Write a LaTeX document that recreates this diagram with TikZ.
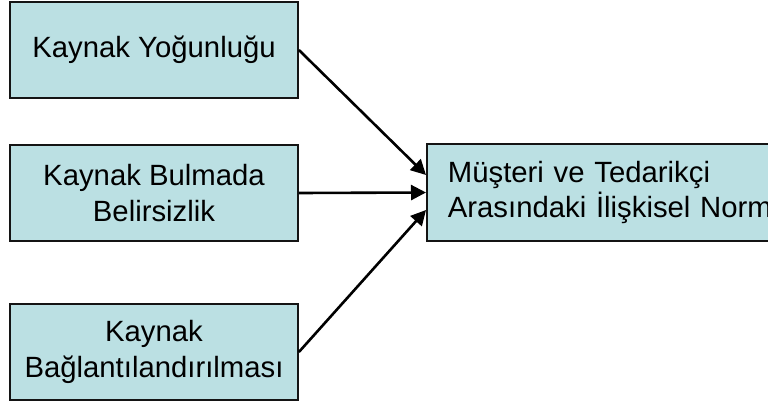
\documentclass[tikz,border=0pt]{standalone}
\usepackage{fontspec}
\setmainfont{Liberation Sans}
\usetikzlibrary{arrows.meta,calc}
\definecolor{boxfill}{RGB}{187,224,227}
\definecolor{boxline}{RGB}{20,20,20}
\begin{document}
\begin{tikzpicture}[x=1pt,y=-1pt,
  srcbox/.style={draw=boxline,line width=1.8pt,fill=boxfill,minimum width=288pt,minimum height=96pt,
    align=center,font=\fontsize{29.3}{35.5}\selectfont,inner sep=0pt},
  tgtbox/.style={draw=boxline,line width=1.8pt,fill=boxfill,minimum width=390pt,minimum height=97pt,
    text width=348pt,align=left,font=\fontsize{29.3}{35.5}\selectfont,inner xsep=21pt,inner ysep=0pt},
  conn/.style={line width=2.6pt,-{Triangle[length=15pt,width=15pt]}}]
\useasboundingbox (0,0) rectangle (768,402);
\clip (0,0) rectangle (768,402);
\fill[white] (0,0) rectangle (768,402);
\node[srcbox] (b1) at (154,50) {Kaynak Yoğunluğu};
\node[srcbox] (b2) at (154,193) {Kaynak Bulmada\\Belirsizlik};
\node[srcbox] (b3) at (154,352) {Kaynak\\Bağlantılandırılması};
\node[tgtbox,anchor=west] (r) at (426,192.5) {Müşteri ve Tedarikçi\\Arasındaki İlişkisel Norm};
\draw[conn] (b1.east) -- ([yshift=17.5pt]r.west);
\draw[conn] (b2.east) -- (r.west);
\draw[conn] (b3.east) -- ([yshift=-17.5pt]r.west);
\end{tikzpicture}
\end{document}
